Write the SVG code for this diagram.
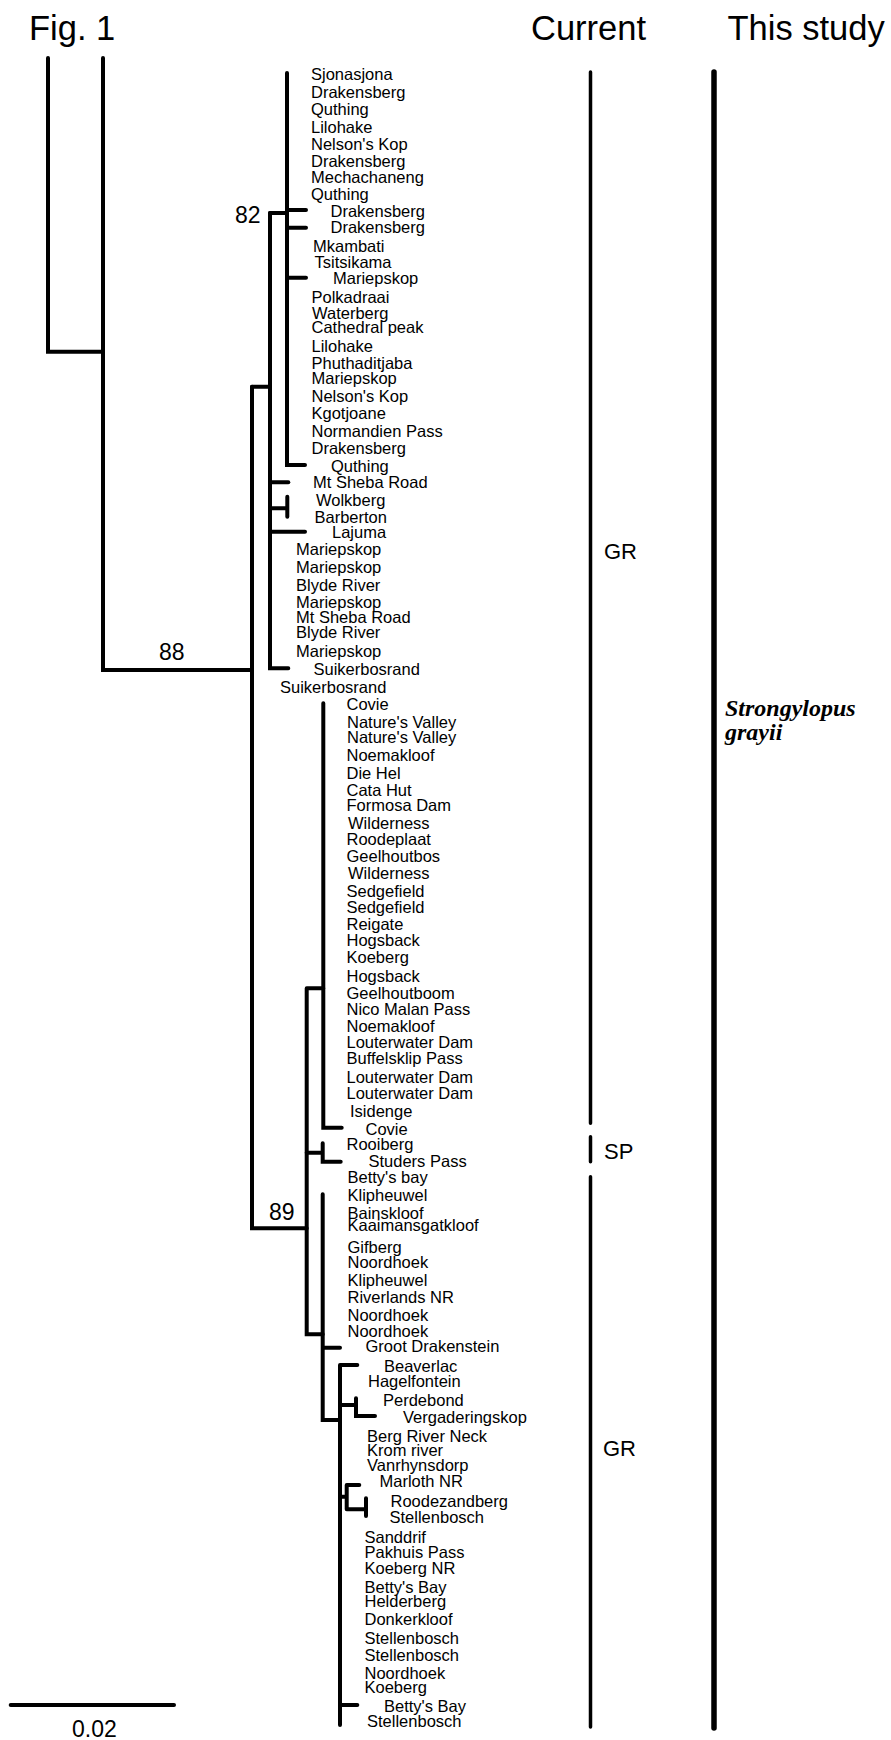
<svg xmlns="http://www.w3.org/2000/svg" width="891" height="1740" viewBox="0 0 891 1740">
<style>
.br{fill:none;stroke:#000;stroke-width:4;stroke-linecap:round;stroke-linejoin:miter}
.col{fill:none;stroke:#000;stroke-width:3.5;stroke-linecap:round}
.col2{fill:none;stroke:#000;stroke-width:5.5;stroke-linecap:round}
text{font-family:"Liberation Sans",Arial,sans-serif;fill:#000}
.lb{font-size:16.5px}
.hd{font-size:34.5px}
.bs{font-size:23px}
.cl{font-size:22px}
.sp{font-family:"Liberation Serif","Times New Roman",serif;font-size:24px;font-weight:bold;font-style:italic}
</style>
<rect width="891" height="1740" fill="#fff"/>
<g id="headers">
<text class="hd" x="29" y="40">Fig. 1</text>
<text class="hd" x="531" y="40">Current</text>
<text class="hd" x="727.5" y="40">This study</text>
</g>
<g id="connectors">
<path class="br" d="M48 58 V351.7 H103"/>
<path class="br" d="M103 58 V670 H252"/>
<path class="br" d="M252 386.7 V1228.3 H306.7"/>
<path class="br" d="M252 386.7 H270"/>
<path class="br" d="M270 213 V668.3 H288.3"/>
<path class="br" d="M270 213 H287"/>
<path class="br" d="M287 73 V465 H305"/>
<path class="br" d="M287 210 H306 M287 227.7 H306 M287 277.7 H306"/>
<path class="br" d="M270 482.3 H288.3"/>
<path class="br" d="M270 508.3 H287.3 M287.3 496.7 V516.7"/>
<path class="br" d="M270 531.7 H305"/>
<path class="br" d="M306.7 988.3 V1334.3 H322.7 M306.7 988.3 H323.3"/>
<path class="br" d="M323.3 703.3 V1127.7 H341.7"/>
<path class="br" d="M306.7 1152.7 H322.7 M322.7 1143.3 V1161.7 H340.7"/>
<path class="br" d="M322.7 1194.3 V1420 H340 M322.7 1347.7 H340"/>
<path class="br" d="M340 1365 V1725 M340 1365 H357.3"/>
<path class="br" d="M340 1405 H356 M356 1398.3 V1416 H375"/>
<path class="br" d="M340 1496.7 H346.7 M346.7 1485 V1509.3 M346.7 1485 H359.3 M346.7 1509.3 H366 M366 1498.3 V1516"/>
<path class="br" d="M340 1705 H357.3"/>
</g>
<g id="bootstrap">
<text class="bs" x="235" y="223">82</text>
<text class="bs" x="159" y="659.5">88</text>
<text class="bs" x="269" y="1220">89</text>
</g>
<g id="scale">
<path class="br" d="M10.7 1705 H174"/>
<text class="bs" x="72" y="1737">0.02</text>
</g>
<g id="current">
<path class="col" d="M590.5 72 V1123.3 M590.5 1136.7 V1161.7 M590.5 1176.7 V1727"/>
<text class="cl" x="604" y="559">GR</text>
<text class="cl" x="604" y="1159">SP</text>
<text class="cl" x="603" y="1456">GR</text>
</g>
<g id="thisstudy">
<path class="col2" d="M714 72 V1728"/>
<text class="sp" x="725" y="716">Strongylopus</text>
<text class="sp" x="725" y="740">grayii</text>
</g>
<g id="leaves" class="lb">
<g id="l1"><text class="lb" x="311" y="80">Sjonasjona</text></g>
<g id="l2"><text class="lb" x="311" y="97.5">Drakensberg</text></g>
<g id="l3"><text class="lb" x="311" y="115">Quthing</text></g>
<g id="l4"><text class="lb" x="311" y="133">Lilohake</text></g>
<g id="l5"><text class="lb" x="311" y="149.5">Nelson's Kop</text></g>
<g id="l6"><text class="lb" x="311" y="166.5">Drakensberg</text></g>
<g id="l7"><text class="lb" x="311" y="183">Mechachaneng</text></g>
<g id="l8"><text class="lb" x="311" y="200">Quthing</text></g>
<g id="l9"><text class="lb" x="330.5" y="217">Drakensberg</text></g>
<g id="l10"><text class="lb" x="330.5" y="233">Drakensberg</text></g>
<g id="l11"><text class="lb" x="313" y="252">Mkambati</text></g>
<g id="l12"><text class="lb" x="314.5" y="268">Tsitsikama</text></g>
<g id="l13"><text class="lb" x="333" y="284">Mariepskop</text></g>
<g id="l14"><text class="lb" x="311.5" y="303">Polkadraai</text></g>
<g id="l15"><text class="lb" x="312" y="319">Waterberg</text></g>
<g id="l16"><text class="lb" x="311.5" y="333">Cathedral peak</text></g>
<g id="l17"><text class="lb" x="311.5" y="352">Lilohake</text></g>
<g id="l18"><text class="lb" x="311.5" y="369">Phuthaditjaba</text></g>
<g id="l19"><text class="lb" x="311.5" y="384">Mariepskop</text></g>
<g id="l20"><text class="lb" x="311.5" y="402">Nelson's Kop</text></g>
<g id="l21"><text class="lb" x="311.5" y="419">Kgotjoane</text></g>
<g id="l22"><text class="lb" x="311.5" y="437">Normandien Pass</text></g>
<g id="l23"><text class="lb" x="311.5" y="454">Drakensberg</text></g>
<g id="l24"><text class="lb" x="331" y="472">Quthing</text></g>
<g id="l25"><text class="lb" x="313" y="488">Mt Sheba Road</text></g>
<g id="l26"><text class="lb" x="316" y="506">Wolkberg</text></g>
<g id="l27"><text class="lb" x="314.5" y="523">Barberton</text></g>
<g id="l28"><text class="lb" x="332" y="538">Lajuma</text></g>
<g id="l29"><text class="lb" x="296" y="555">Mariepskop</text></g>
<g id="l30"><text class="lb" x="296" y="573">Mariepskop</text></g>
<g id="l31"><text class="lb" x="296" y="591">Blyde River</text></g>
<g id="l32"><text class="lb" x="296" y="608">Mariepskop</text></g>
<g id="l33"><text class="lb" x="296" y="623">Mt Sheba Road</text></g>
<g id="l34"><text class="lb" x="296" y="638">Blyde River</text></g>
<g id="l35"><text class="lb" x="296" y="657">Mariepskop</text></g>
<g id="l36"><text class="lb" x="313.5" y="675">Suikerbosrand</text></g>
<g id="l37"><text class="lb" x="280" y="692.5">Suikerbosrand</text></g>
<g id="l38"><text class="lb" x="346.5" y="710">Covie</text></g>
<g id="l39"><text class="lb" x="347" y="727.7">Nature's Valley</text></g>
<g id="l40"><text class="lb" x="347" y="742.7">Nature's Valley</text></g>
<g id="l41"><text class="lb" x="346.5" y="761">Noemakloof</text></g>
<g id="l42"><text class="lb" x="346.5" y="779">Die Hel</text></g>
<g id="l43"><text class="lb" x="346.5" y="795.7">Cata Hut</text></g>
<g id="l44"><text class="lb" x="346.5" y="810.7">Formosa Dam</text></g>
<g id="l45"><text class="lb" x="348" y="829.3">Wilderness</text></g>
<g id="l46"><text class="lb" x="346.5" y="845">Roodeplaat</text></g>
<g id="l47"><text class="lb" x="346.5" y="861.7">Geelhoutbos</text></g>
<g id="l48"><text class="lb" x="348" y="879">Wilderness</text></g>
<g id="l49"><text class="lb" x="346.5" y="896.7">Sedgefield</text></g>
<g id="l50"><text class="lb" x="346.5" y="912.7">Sedgefield</text></g>
<g id="l51"><text class="lb" x="346.5" y="930">Reigate</text></g>
<g id="l52"><text class="lb" x="346.5" y="945.7">Hogsback</text></g>
<g id="l53"><text class="lb" x="346.5" y="962.7">Koeberg</text></g>
<g id="l54"><text class="lb" x="346.5" y="981.7">Hogsback</text></g>
<g id="l55"><text class="lb" x="346.5" y="999.3">Geelhoutboom</text></g>
<g id="l56"><text class="lb" x="346.5" y="1015">Nico Malan Pass</text></g>
<g id="l57"><text class="lb" x="346.5" y="1031.7">Noemakloof</text></g>
<g id="l58"><text class="lb" x="346.5" y="1047.7">Louterwater Dam</text></g>
<g id="l59"><text class="lb" x="346.5" y="1064.3">Buffelsklip Pass</text></g>
<g id="l60"><text class="lb" x="346.5" y="1083.3">Louterwater Dam</text></g>
<g id="l61"><text class="lb" x="346.5" y="1099.3">Louterwater Dam</text></g>
<g id="l62"><text class="lb" x="350" y="1116.7">Isidenge</text></g>
<g id="l63"><text class="lb" x="365.5" y="1135">Covie</text></g>
<g id="l64"><text class="lb" x="346.5" y="1150">Rooiberg</text></g>
<g id="l65"><text class="lb" x="368.5" y="1166.7">Studers Pass</text></g>
<g id="l66"><text class="lb" x="347.5" y="1183.3">Betty's bay</text></g>
<g id="l67"><text class="lb" x="347.5" y="1200.7">Klipheuwel</text></g>
<g id="l68"><text class="lb" x="347.5" y="1219">Bainskloof</text></g>
<g id="l69"><text class="lb" x="347.5" y="1231">Kaaimansgatkloof</text></g>
<g id="l70"><text class="lb" x="347.5" y="1253.3">Gifberg</text></g>
<g id="l71"><text class="lb" x="347.5" y="1268.3">Noordhoek</text></g>
<g id="l72"><text class="lb" x="347.5" y="1286">Klipheuwel</text></g>
<g id="l73"><text class="lb" x="347.5" y="1303.3">Riverlands NR</text></g>
<g id="l74"><text class="lb" x="347.5" y="1320.7">Noordhoek</text></g>
<g id="l75"><text class="lb" x="347.5" y="1337.3">Noordhoek</text></g>
<g id="l76"><text class="lb" x="365.5" y="1352.3">Groot Drakenstein</text></g>
<g id="l77"><text class="lb" x="384" y="1371.7">Beaverlac</text></g>
<g id="l78"><text class="lb" x="368" y="1386.7">Hagelfontein</text></g>
<g id="l79"><text class="lb" x="383" y="1406">Perdebond</text></g>
<g id="l80"><text class="lb" x="403" y="1423.3">Vergaderingskop</text></g>
<g id="l81"><text class="lb" x="367" y="1441.7">Berg River Neck</text></g>
<g id="l82"><text class="lb" x="367" y="1456">Krom river</text></g>
<g id="l83"><text class="lb" x="367" y="1470.7">Vanrhynsdorp</text></g>
<g id="l84"><text class="lb" x="379.5" y="1487">Marloth NR</text></g>
<g id="l85"><text class="lb" x="390.5" y="1507.3">Roodezandberg</text></g>
<g id="l86"><text class="lb" x="389.5" y="1523.3">Stellenbosch</text></g>
<g id="l87"><text class="lb" x="364.5" y="1542.7">Sanddrif</text></g>
<g id="l88"><text class="lb" x="364.5" y="1558.3">Pakhuis Pass</text></g>
<g id="l89"><text class="lb" x="364.5" y="1574.3">Koeberg NR</text></g>
<g id="l90"><text class="lb" x="364.5" y="1592.7">Betty's Bay</text></g>
<g id="l91"><text class="lb" x="364.5" y="1606.7">Helderberg</text></g>
<g id="l92"><text class="lb" x="364.5" y="1625">Donkerkloof</text></g>
<g id="l93"><text class="lb" x="364.5" y="1644">Stellenbosch</text></g>
<g id="l94"><text class="lb" x="364.5" y="1660.7">Stellenbosch</text></g>
<g id="l95"><text class="lb" x="364.5" y="1679">Noordhoek</text></g>
<g id="l96"><text class="lb" x="364.5" y="1693.3">Koeberg</text></g>
<g id="l97"><text class="lb" x="384" y="1711.7">Betty's Bay</text></g>
<g id="l98"><text class="lb" x="367" y="1726.7">Stellenbosch</text></g>
</g>
</svg>
